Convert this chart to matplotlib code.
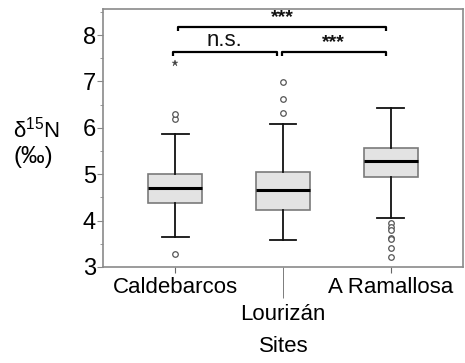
import matplotlib
matplotlib.use("Agg")
import matplotlib.pyplot as plt
from matplotlib.ticker import FixedLocator, MultipleLocator

plt.rcParams['font.family'] = ['Liberation Sans', 'DejaVu Sans']
plt.rcParams['mathtext.fontset'] = 'custom'
plt.rcParams['mathtext.rm'] = 'Liberation Sans'
plt.rcParams['mathtext.it'] = 'Liberation Sans:italic'

sites = ["Caldebarcos", "Lourizán", "A Ramallosa"]
q1 = [4.37, 4.23, 4.93]
med = [4.70, 4.67, 5.28]
q3 = [5.00, 5.04, 5.57]
whislo = [3.65, 3.58, 4.05]
whishi = [5.87, 6.08, 6.42]
outliers = [[3.29, 6.20, 6.29],
            [6.33, 6.62, 6.99],
            [3.94, 3.87, 3.80, 3.62, 3.60, 3.42, 3.22]]
extremes = [[7.39], [], []]

# significance brackets: (left, right, height, label, fontsize)
comparisons = [(1.03, 2.95, 8.17, "***", 14),
               (0.98, 1.94, 7.63, "n.s.", 16),
               (1.99, 2.95, 7.63, "***", 14)]

fig = plt.figure(figsize=(4.65, 3.63), dpi=100)
ax = fig.add_axes([0.2215, 0.2645, 0.7742, 0.7105])

stats = []
for i in range(3):
    stats.append(dict(q1=q1[i], med=med[i], q3=q3[i], whislo=whislo[i],
                      whishi=whishi[i], fliers=outliers[i]))

ax.bxp(stats, positions=[1, 2, 3], widths=0.5, patch_artist=True,
       boxprops=dict(facecolor="#e3e3e3", edgecolor="#7a7a7a", linewidth=1.2),
       medianprops=dict(color="black", linewidth=2.2),
       whiskerprops=dict(color="#111111", linewidth=1.3),
       capprops=dict(color="#111111", linewidth=1.3),
       capwidths=0.25,
       flierprops=dict(marker="o", markersize=4, markerfacecolor="white",
                       markeredgecolor="#555555", markeredgewidth=0.9))

for i, ext in enumerate(extremes):
    if ext:
        ax.plot([i + 1] * len(ext), ext, linestyle="none", marker="*",
                markersize=5, color="#444444", markeredgewidth=0.3)

for x0, x1, h, lab, fs in comparisons:
    ax.plot([x0, x0, x1, x1], [h - 0.08, h, h, h - 0.08], color="black",
            linewidth=1.6, solid_capstyle="butt")
    weight = "bold" if lab == "***" else "normal"
    ax.text((x0 + x1) / 2, h + 0.02, lab, ha="center", va="bottom",
            fontsize=fs, color="#111111", fontweight=weight)

ax.set_xlim(0.333, 3.667)
ax.set_ylim(3, 8.56)
ax.set_yticks([3, 4, 5, 6, 7, 8])
ax.yaxis.set_minor_locator(MultipleLocator(0.5))
ax.tick_params(axis="y", which="major", labelsize=17, length=4, pad=1,
               color="#888888")
ax.tick_params(axis="y", which="minor", length=2.5, color="#888888")

ax.xaxis.set_major_locator(FixedLocator([1, 3]))
ax.set_xticklabels([sites[0], sites[2]])
ax.xaxis.set_minor_locator(FixedLocator([2]))
ax.set_xticklabels([sites[1]], minor=True)
ax.tick_params(axis="x", which="major", labelsize=16, length=4.5, pad=3,
               color="#666666")
ax.tick_params(axis="x", which="minor", labelsize=16, length=22, pad=5,
               color="#666666")

for s in ax.spines.values():
    s.set_color("#8a8a8a")
    s.set_linewidth(1.2)

fig.text(0.61, 0.045, "Sites", ha="center", va="center", fontsize=16)
fig.text(0.028, 0.643, "δ$^{15}$N", ha="left", va="center", fontsize=16)
fig.text(0.028, 0.567, "(‰)", ha="left", va="center", fontsize=17)

fig.savefig("out.png", dpi=100)
